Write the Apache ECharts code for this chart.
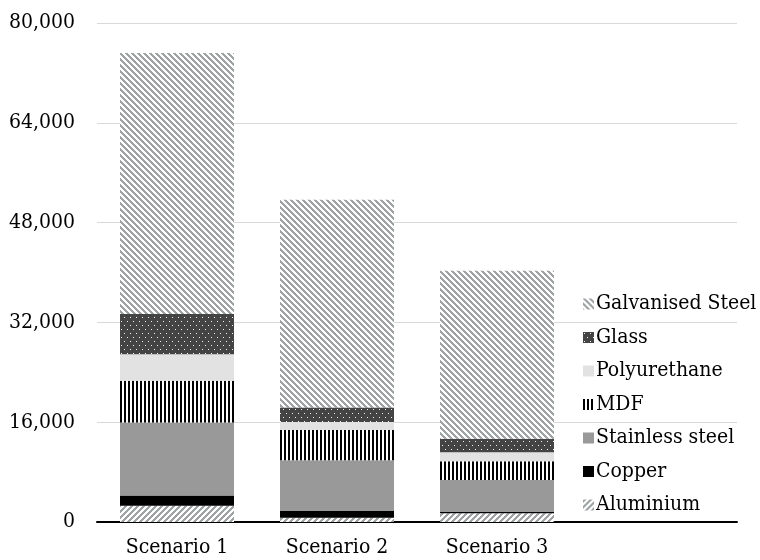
<!DOCTYPE html>
<html>
<head>
<meta charset="utf-8">
<script src="https://cdn.jsdelivr.net/npm/echarts@6/dist/echarts.min.js"></script>
<style>
  html, body { margin: 0; padding: 0; background: #fff; }
  #chart { width: 760px; height: 560px; }
</style>
</head>
<body>
<div id="chart"></div>
<script>
// Material quantities per scenario (stacked bottom to top)
const categories = ['Scenario 1', 'Scenario 2', 'Scenario 3', ''];
const aluminium = [2600, 700, 1400];
const copper = [1650, 1050, 200];
const stainlessSteel = [11700, 8150, 5150];
const mdf = [6700, 4850, 3000];
const polyurethane = [4250, 1300, 1450];
const glass = [6450, 2300, 2150];
const galvanisedSteel = [41850, 33300, 26950];
const yTicks = [0, 16000, 32000, 48000, 64000, 80000];

const FONT = "'DejaVu Serif Condensed', 'DejaVu Serif', serif";

// Small repeating tiles used as fill patterns
function tile(w, h, draw) {
  const c = document.createElement('canvas');
  c.width = w; c.height = h;
  const ctx = c.getContext('2d');
  draw(ctx, w, h);
  return { image: c, repeat: 'repeat' };
}
function diagonal(dir, fg, bg, period, band) {
  return tile(period, period, (ctx, w, h) => {
    ctx.fillStyle = bg; ctx.fillRect(0, 0, w, h);
    ctx.fillStyle = fg;
    for (let y = 0; y < h; y++) {
      for (let x = 0; x < w; x++) {
        const k = dir > 0 ? (x + y) : (x - y + period * 4);
        if (k % period < band) ctx.fillRect(x, y, 1, 1);
      }
    }
  });
}
const galvPattern = diagonal(-1, '#9ea3a3', '#ffffff', 6, 3);
const aluPattern = diagonal(1, '#9ea3a3', '#ffffff', 6, 3);
const mdfPattern = tile(4, 4, (ctx) => {
  ctx.fillStyle = '#ffffff'; ctx.fillRect(0, 0, 4, 4);
  ctx.fillStyle = '#000000'; ctx.fillRect(0, 0, 2, 4);
});
const glassPattern = tile(6, 8, (ctx) => {
  ctx.fillStyle = '#444444'; ctx.fillRect(0, 0, 6, 8);
  ctx.fillStyle = '#f4f4f4';
  ctx.fillRect(1, 1, 1, 1);
  ctx.fillRect(4, 5, 1, 1);
});

function barSeries(name, data, color) {
  return {
    name: name,
    type: 'bar',
    stack: 'total',
    data: data,
    barCategoryGap: '28.75%',
    itemStyle: { color: color },
    emphasis: { disabled: true }
  };
}

const chart = echarts.init(document.getElementById('chart'), null, { renderer: 'canvas' });
chart.setOption({
  animation: false,
  backgroundColor: '#ffffff',
  grid: { left: 97, right: 23, top: 23, bottom: 38, containLabel: false },
  legend: {
    orient: 'vertical',
    left: 578,
    top: 287,
    itemWidth: 11,
    itemHeight: 11,
    itemGap: 9.5,
    icon: 'rect',
    selectedMode: false,
    data: ['Galvanised Steel', 'Glass', 'Polyurethane', 'MDF', 'Stainless steel', 'Copper', 'Aluminium'],
    textStyle: { fontFamily: FONT, fontSize: 21, color: '#000', padding: [0, 0, 0, -3], lineHeight: 24 }
  },
  xAxis: {
    type: 'category',
    data: categories,
    axisLine: { show: true, lineStyle: { color: '#000', width: 2 } },
    axisTick: { show: false },
    axisLabel: { fontFamily: FONT, fontSize: 21, color: '#000', margin: 15, interval: 0 }
  },
  yAxis: {
    type: 'value',
    min: yTicks[0],
    max: yTicks[yTicks.length - 1],
    interval: yTicks[1] - yTicks[0],
    axisLine: { show: false },
    axisTick: { show: false },
    splitLine: { lineStyle: { color: '#d9d9d9', width: 1 } },
    axisLabel: {
      fontFamily: FONT, fontSize: 21, color: '#000', margin: 22,
      formatter: (v) => v.toLocaleString('en-US')
    }
  },
  series: [
    barSeries('Aluminium', aluminium, aluPattern),
    barSeries('Copper', copper, '#000000'),
    barSeries('Stainless steel', stainlessSteel, '#999999'),
    barSeries('MDF', mdf, mdfPattern),
    barSeries('Polyurethane', polyurethane, '#e2e2e2'),
    barSeries('Glass', glass, glassPattern),
    barSeries('Galvanised Steel', galvanisedSteel, galvPattern)
  ]
});
</script>
</body>
</html>
